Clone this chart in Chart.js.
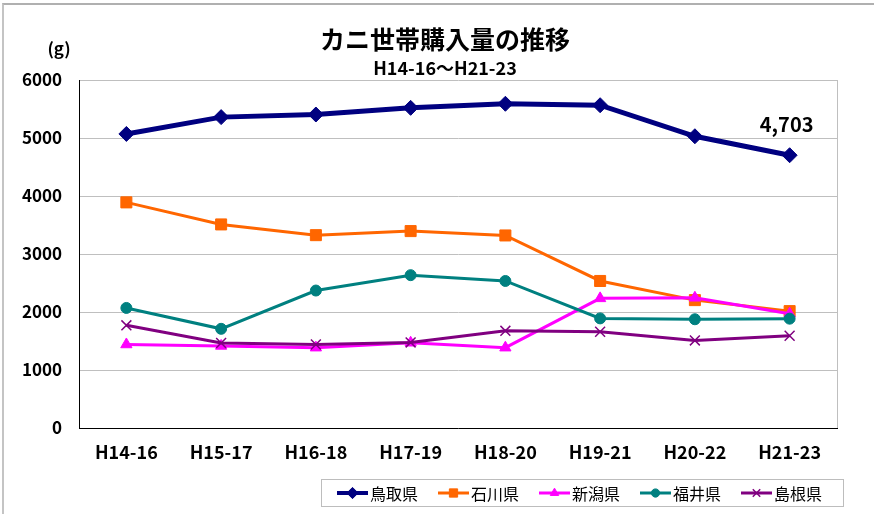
<!DOCTYPE html>
<html>
<head>
<meta charset="utf-8">
<script src="https://cdn.jsdelivr.net/npm/chart.js@4/dist/chart.umd.min.js"></script>
<style>
  body { margin: 0; background: #fff; overflow: hidden; }
  #frame { position: absolute; left: 2px; top: 3px; width: 900px; height: 600px;
           border-left: 2px solid #C4C4C4; border-top: 2px solid #B0B0B0; }
  #myChart { position: absolute; left: 0; top: 0; }
</style>
</head>
<body>
<div id="frame"></div>
<canvas id="myChart" width="874" height="514"></canvas>
<script>
const labels = ['H14-16', 'H15-17', 'H16-18', 'H17-19', 'H18-20', 'H19-21', 'H20-22', 'H21-23'];
const seriesNames = ['鳥取県', '石川県', '新潟県', '福井県', '島根県'];

// 世帯購入量 (g)
const tottori  = [5070, 5360, 5405, 5520, 5590, 5565, 5030, 4703];
const ishikawa = [3890, 3510, 3325, 3395, 3320, 2535, 2205, 2015];
const niigata  = [1440, 1415, 1385, 1470, 1385, 2235, 2245, 1970];
const fukui    = [2070, 1710, 2370, 2635, 2535, 1890, 1875, 1885];
const shimane  = [1770, 1465, 1440, 1475, 1675, 1660, 1510, 1590];

const yTicks = [0, 1000, 2000, 3000, 4000, 5000, 6000];

const titleText = 'カニ世帯購入量の推移';
const subTitleText = 'H14-16～H21-23';
const unitText = '(g)';

const jp = '"Noto Sans CJK JP", "Noto Sans", sans-serif';

// 線と目印
const styles = [
    { color: '#000080', width: 5, point: 'rectRot', radius: 7.5 },
    { color: '#FF6600', width: 3, point: 'rect', radius: 7.8 },
    { color: '#FF00FF', width: 3, point: 'triangle', radius: 6.5 },
    { color: '#008080', width: 3, point: 'circle', radius: 5.5 },
    { color: '#800080', width: 3, point: 'crossRot', radius: 7 },
];

const values = [tottori, ishikawa, niigata, fukui, shimane];

const datasets = values.map((v, i) => ({
    label: seriesNames[i],
    data: v,
    borderColor: styles[i].color,
    backgroundColor: styles[i].color,
    borderWidth: styles[i].width,
    pointStyle: styles[i].point,
    pointRadius: styles[i].radius,
    pointHoverRadius: styles[i].radius,
    pointBorderWidth: styles[i].point == 'crossRot' ? 1.5 : 1,
    tension: 0,
    order: values.length - i, // 鳥取県 が一番下
}));

const extras = {
    id: 'extras',
    afterDraw(chart) {
        const ctx = chart.ctx;
        const area = chart.chartArea;
        ctx.save();
        ctx.fillStyle = '#000';
        ctx.textAlign = 'center';
        ctx.textBaseline = 'middle';

        // タイトル
        ctx.font = 'bold 25px ' + jp;
        ctx.fillText(titleText, 445, 39);
        ctx.font = 'bold 18px ' + jp;
        ctx.fillText(subTitleText, 445, 68);

        // 単位
        ctx.font = 'bold 17px ' + jp;
        ctx.fillText(unitText, 59, 49);

        // 最後の値
        const meta = chart.getDatasetMeta(0);
        const last = meta.data[meta.data.length - 1];
        ctx.font = 'bold 20px ' + jp;
        ctx.fillText(tottori[tottori.length - 1].toLocaleString('en-US'), last.x - 3, last.y - 31);

        // 右の枠線
        ctx.strokeStyle = '#BFBFBF';
        ctx.lineWidth = 1;
        ctx.beginPath();
        ctx.moveTo(Math.round(area.right) + 0.5, area.top);
        ctx.lineTo(Math.round(area.right) + 0.5, area.bottom);
        ctx.stroke();

        // 凡例
        ctx.strokeStyle = '#BDBDBD';
        ctx.strokeRect(321.5, 479.5, 522, 27);
        const ly = 493;
        ctx.textAlign = 'left';
        ctx.font = '16px ' + jp;
        chart.data.datasets.forEach((ds, i) => {
            const x0 = 337 + 101 * i;
            ctx.strokeStyle = ds.borderColor;
            ctx.fillStyle = ds.backgroundColor;
            ctx.lineWidth = i == 0 ? 4 : 3;
            ctx.beginPath();
            ctx.moveTo(x0, ly);
            ctx.lineTo(x0 + 31, ly);
            ctx.stroke();
            ctx.lineWidth = ds.pointBorderWidth;
            Chart.helpers.drawPoint(ctx, {
                pointStyle: ds.pointStyle,
                radius: ds.pointRadius * 0.75,
                rotation: 0,
                borderWidth: ds.pointBorderWidth
            }, x0 + 15.5, ly);
            ctx.fillStyle = '#000';
            ctx.fillText(ds.label, x0 + 33, ly + 1);
        });
        ctx.restore();
    }
};

const config = {
    type: 'line',
    data: { labels: labels, datasets: datasets },
    options: {
        responsive: false,
        animation: false,
        devicePixelRatio: 1,
        layout: { padding: { left: 0, top: 80, right: 37, bottom: 46 } },
        plugins: {
            legend: { display: false },
            title: { display: false },
            tooltip: { enabled: false },
        },
        scales: {
            x: {
                offset: true,
                afterFit: (scale) => { scale.height = 40; },
                grid: { display: false, drawTicks: false },
                border: { color: '#000', width: 1 },
                ticks: {
                    color: '#000',
                    padding: 13,
                    font: { family: jp, size: 18, weight: 'bold' },
                },
            },
            y: {
                min: 0,
                max: 6000,
                afterFit: (scale) => { scale.width = 79; },
                afterBuildTicks: (scale) => { scale.ticks = yTicks.map(v => ({ value: v })); },
                grid: { color: '#BFBFBF', lineWidth: 1, drawTicks: false },
                border: { color: '#000', width: 1 },
                ticks: {
                    color: '#000',
                    padding: 17,
                    font: { family: jp, size: 17, weight: 'bold' },
                    callback: (value) => String(value),
                },
            },
        },
    },
    plugins: [extras],
};

const myChart = new Chart(document.getElementById('myChart'), config);
</script>
</body>
</html>
